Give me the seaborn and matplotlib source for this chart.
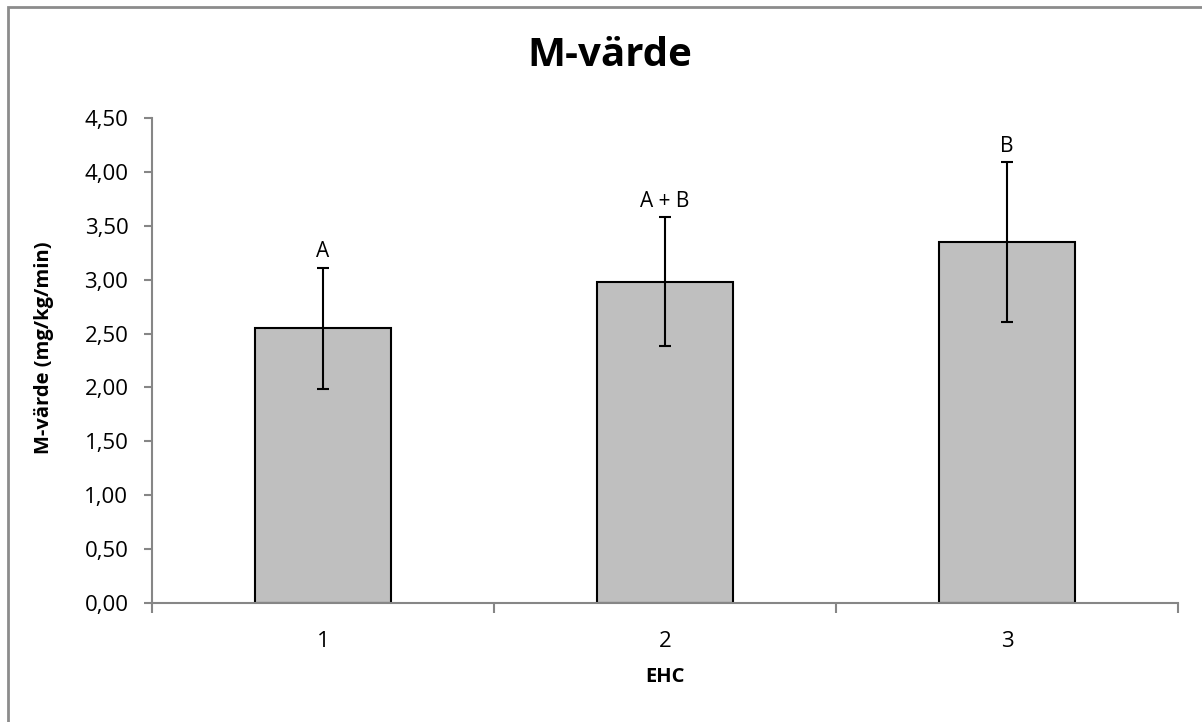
import matplotlib
matplotlib.use("Agg")
import matplotlib.pyplot as plt
import seaborn as sns
import pandas as pd
from matplotlib.patches import Rectangle
from matplotlib.ticker import FixedLocator, FuncFormatter

categories = ["1", "2", "3"]
values = [2.55, 2.98, 3.35]
errors = [0.56, 0.60, 0.74]
letters = ["A", "A + B", "B"]
y_ticks = [0.0, 0.5, 1.0, 1.5, 2.0, 2.5, 3.0, 3.5, 4.0, 4.5]

sns.set_theme(style="white")
plt.rcParams['font.family'] = ['Open Sans', 'DejaVu Sans']
plt.rcParams['text.color'] = 'black'
plt.rcParams['axes.labelcolor'] = 'black'

W, H = 1202, 722
fig = plt.figure(figsize=(W / 100, H / 100), dpi=100)
ax = fig.add_axes([152 / W, 1 - 603 / H, (1178 - 152) / W, (603 - 118) / H])

df = pd.DataFrame({"EHC": categories, "M": values})
sns.barplot(data=df, x="EHC", y="M", color="#BFBFBF", edgecolor="black",
            linewidth=1.5, width=0.4, saturation=1, ax=ax, errorbar=None)
ax.errorbar(range(len(categories)), values, yerr=errors, fmt="none",
            ecolor="black", elinewidth=1.5, capsize=4, capthick=1.5)

for i, (v, e, t) in enumerate(zip(values, errors, letters)):
    ax.annotate(t, (i, v + e), xytext=(0, 4), textcoords="offset points",
                ha="center", va="bottom", fontsize=15, color="black")

ax.set_xlim(-0.5, len(categories) - 0.5)
ax.set_ylim(0, 4.5)
ax.yaxis.set_major_locator(FixedLocator(y_ticks))
ax.yaxis.set_major_formatter(FuncFormatter(lambda v, p: f"{v:.2f}".replace(".", ",")))
ax.set_xticks(range(len(categories)))
ax.set_xticks([-0.5 + k for k in range(len(categories) + 1)], minor=True)

for s in ["top", "right"]:
    ax.spines[s].set_visible(False)
for s in ["left", "bottom"]:
    ax.spines[s].set_color("#868686")
    ax.spines[s].set_linewidth(1.5)

ax.tick_params(axis="y", which="major", direction="out", length=6, width=1.5,
               color="#868686", left=True, labelsize=16, labelcolor="black", pad=11)
ax.tick_params(axis="x", which="major", length=0, labelsize=16, labelcolor="black", pad=20)
ax.tick_params(axis="x", which="minor", direction="out", length=7, width=1.5,
               color="#868686", bottom=True)

ax.set_xlabel("EHC", fontsize=14.5, fontweight="bold", labelpad=11, color="black")
ax.set_ylabel("M-värde (mg/kg/min)", fontsize=14.5, fontweight="bold", color="black")
ax.yaxis.set_label_coords((54 - 152) / 1026, (603 - 348) / 485)
fig.text(610 / W, 1 - 55 / H, "M-värde", ha="center", va="center",
         fontsize=29, fontweight="bold", color="black")

fig.patches.append(Rectangle((7.5 / W, -0.1), 1.2, 1 - 7 / H + 0.1, transform=fig.transFigure,
                             fill=False, edgecolor="#8C8C8C", linewidth=2.0))

fig.savefig("out.png", dpi=100)
